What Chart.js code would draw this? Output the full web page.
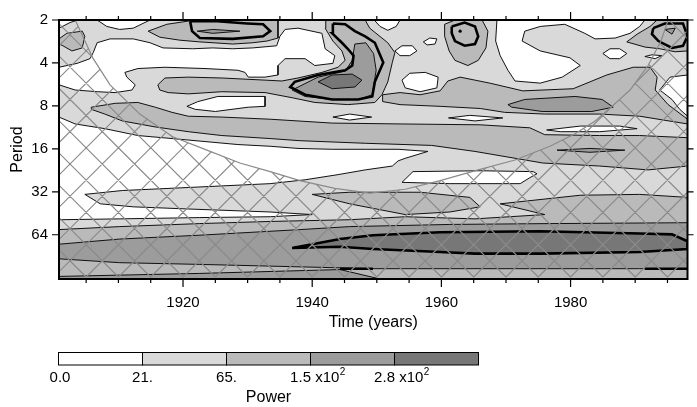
<!DOCTYPE html>
<html>
<head>
<meta charset="utf-8">
<script src="https://cdn.jsdelivr.net/npm/chart.js@4.4.0/dist/chart.umd.min.js"></script>
<style>
  html, body { margin: 0; padding: 0; background: #fff; }
</style>
</head>
<body>
<canvas id="myChart" width="697" height="407"></canvas>
<script>
// ejes: años y log2(periodo)
const yearTicks = [1920, 1940, 1960, 1980];
const log2PeriodTicks = [1, 2, 3, 4, 5, 6];
const yearRange = [1900.8, 1998.1];
const log2PeriodRange = [1, 7.03];

// niveles de potencia (barra de colores)
const powerLabels = ['0.0', '21.', '65.', '1.5 x10', '2.8 x10'];
const powerExponents = ['', '', '', '2', '2'];
const levelColors = ['#ffffff', '#d9d9d9', '#bababa', '#9c9c9c', '#777777'];

// cono de influencia [año, log2(periodo)]
const coiYear = [1903.3, 1906.1, 1908.7, 1913.3, 1918.4, 1923.7, 1928.8, 1933.5, 1938.1, 1943.5, 1948.9, 1954.4, 1959.8, 1965.7, 1971.4, 1976.8, 1980.7, 1983.8, 1986.7, 1989.2, 1992.0, 1994.0, 1995.1];
const coiLog2Period = [1.0, 1.90, 2.51, 3.19, 3.72, 4.03, 4.33, 4.53, 4.74, 4.92, 5.03, 4.94, 4.74, 4.49, 4.26, 3.94, 3.65, 3.35, 2.97, 2.63, 2.06, 1.49, 1.0];

// regiones de contorno [año, log2(periodo)]
const fullDomain = [[1900.8, 1], [1998.1, 1], [1998.1, 7.03], [1900.8, 7.03]];

const whiteCorner = [[1900.8, 1.0], [1903.7, 1.0], [1902.5, 1.06], [1900.8, 1.19]];
const whiteBay = [[1906.7, 1.0], [1908.2, 1.15], [1910.2, 1.22], [1912.3, 1.19], [1913.8, 1.08], [1914.9, 1.0]];
const whiteBay2 = [[1949.6, 1.0], [1950.5, 1.15], [1951.7, 1.24], [1953.0, 1.15], [1953.6, 1.0]];
const whiteUpper = [[1900.8, 2.10], [1903.6, 2.01], [1905.6, 1.90], [1906.1, 1.76], [1906.7, 1.53], [1908.7, 1.44], [1912.3, 1.44], [1914.9, 1.53], [1916.9, 1.65], [1921.5, 1.67], [1924.6, 1.65], [1927.7, 1.67], [1930.8, 1.65], [1934.5, 1.60], [1935.0, 1.38], [1935.8, 1.22], [1937.8, 1.19], [1941.5, 1.31], [1942.0, 1.67], [1943.5, 1.83], [1943.2, 2.01], [1940.4, 2.06], [1938.9, 1.90], [1935.8, 1.90], [1934.7, 2.06], [1934.7, 2.28], [1932.7, 2.33], [1930.1, 2.33], [1929.6, 2.22], [1928.5, 2.17], [1923.4, 2.13], [1917.2, 2.10], [1913.0, 2.13], [1911.0, 2.22], [1911.3, 2.33], [1912.6, 2.51], [1912.1, 2.63], [1909.5, 2.69], [1906.8, 2.67], [1903.3, 2.63], [1900.8, 2.51]];
const whiteLens = [[1920.6, 3.01], [1922.3, 2.90], [1925.4, 2.78], [1932.7, 2.78], [1932.7, 3.01], [1930.1, 3.03], [1925.0, 3.13], [1921.9, 3.08]];
const whiteMiddle = [[1900.8, 3.26], [1903.3, 3.42], [1907.9, 3.53], [1913.0, 3.69], [1918.3, 3.76], [1923.4, 3.83], [1928.5, 3.90], [1933.5, 3.94], [1937.8, 3.99], [1943.1, 4.01], [1948.2, 4.01], [1953.3, 4.01], [1957.9, 4.06], [1954.4, 4.22], [1953.3, 4.28], [1952.4, 4.40], [1948.2, 4.49], [1944.0, 4.60], [1938.9, 4.72], [1933.5, 4.81], [1920.8, 4.90], [1910.6, 4.97], [1904.8, 5.06], [1907.2, 5.28], [1912.3, 5.35], [1920.8, 5.40], [1933.5, 5.47], [1940.0, 5.53], [1933.5, 5.58], [1922.6, 5.60], [1910.2, 5.63], [1900.8, 5.65]];
const whiteLower = [[1953.9, 4.78], [1955.6, 4.53], [1966.0, 4.51], [1974.2, 4.53], [1974.8, 4.58], [1973.7, 4.67], [1972.2, 4.81], [1961.3, 4.81]];
const whiteSmall1 = [[1952.8, 1.72], [1953.9, 1.60], [1955.5, 1.60], [1956.2, 1.72], [1955.1, 1.83], [1953.6, 1.83]];
const whiteSmall2 = [[1957.2, 1.51], [1958.2, 1.42], [1959.3, 1.44], [1959.0, 1.56], [1957.8, 1.58]];
const whiteSmall3 = [[1953.9, 2.40], [1955.1, 2.24], [1957.5, 2.22], [1959.5, 2.33], [1959.3, 2.58], [1956.7, 2.67], [1954.4, 2.58]];
const whiteTopRight = [[1968.6, 1.0], [1991.5, 1.0], [1990.7, 1.15], [1989.2, 1.31], [1986.9, 1.42], [1983.8, 1.44], [1982.2, 1.31], [1979.1, 1.10], [1975.3, 1.15], [1972.9, 1.26], [1972.5, 1.49], [1975.3, 1.72], [1979.9, 1.88], [1981.5, 2.06], [1978.7, 2.33], [1975.3, 2.47], [1971.4, 2.42], [1970.3, 2.17], [1969.1, 1.83], [1968.4, 1.49]];
const whiteSmall4 = [[1985.0, 1.78], [1986.1, 1.67], [1987.6, 1.67], [1988.7, 1.78], [1987.6, 1.90], [1986.1, 1.90]];
const whiteSmall5 = [[1991.5, 1.85], [1992.6, 1.81], [1994.1, 1.83], [1993.1, 1.90]];
const whiteRightEdge = [[1993.8, 2.63], [1995.4, 2.33], [1998.1, 2.28], [1998.1, 3.24], [1996.9, 3.08], [1995.7, 2.85]];
const whiteSmall6 = [[1943.2, 3.26], [1945.8, 3.19], [1949.2, 3.26], [1945.8, 3.33]];
const whiteSmall7 = [[1961.1, 3.28], [1964.4, 3.22], [1969.5, 3.28], [1965.2, 3.35]];
const whiteSmall8 = [[1976.3, 3.56], [1981.5, 3.47], [1987.6, 3.47], [1990.3, 3.53], [1984.5, 3.60], [1978.4, 3.60]];

const midTopLeft = [[1900.8, 1.44], [1902.0, 1.31], [1904.4, 1.26], [1904.8, 1.38], [1904.4, 1.65], [1902.8, 1.72], [1901.4, 1.60], [1900.8, 1.56]];
const midTop1 = [[1914.6, 1.26], [1917.5, 1.10], [1920.6, 1.03], [1922.2, 1.0], [1934.7, 1.0], [1934.7, 1.42], [1933.0, 1.49], [1930.8, 1.53], [1927.7, 1.56], [1922.6, 1.51], [1919.5, 1.47], [1916.4, 1.40]];
const midBlob = [[1916.1, 2.51], [1917.2, 2.35], [1920.8, 2.33], [1926.0, 2.35], [1932.7, 2.40], [1935.3, 2.42], [1937.8, 2.35], [1941.5, 2.22], [1944.0, 2.10], [1945.1, 1.94], [1944.6, 1.72], [1943.2, 1.49], [1942.0, 1.19], [1942.1, 1.0], [1948.2, 1.0], [1948.9, 1.19], [1951.7, 1.53], [1952.8, 1.76], [1952.4, 1.99], [1951.7, 2.44], [1950.8, 2.74], [1949.7, 2.92], [1945.5, 2.97], [1940.4, 2.92], [1936.9, 2.81], [1932.7, 2.69], [1926.0, 2.67], [1920.8, 2.72], [1917.7, 2.69], [1916.4, 2.63]];
const midTop2 = [[1960.5, 1.10], [1962.1, 1.0], [1966.3, 1.0], [1967.2, 1.26], [1966.9, 1.65], [1965.7, 1.94], [1964.1, 2.06], [1962.1, 1.94], [1961.2, 1.72], [1960.5, 1.38]];
const midTopRight = [[1988.7, 1.51], [1990.3, 1.33], [1992.3, 1.15], [1993.4, 1.0], [1998.1, 1.0], [1998.1, 1.72], [1996.2, 1.74], [1993.8, 1.67], [1991.5, 1.63]];
const midRight = [[1950.9, 2.74], [1953.6, 2.69], [1956.7, 2.74], [1959.8, 2.65], [1961.0, 2.42], [1962.9, 2.33], [1967.5, 2.47], [1972.6, 2.65], [1980.4, 2.60], [1985.6, 2.28], [1989.7, 2.10], [1992.3, 2.10], [1993.4, 2.33], [1993.1, 2.63], [1995.1, 2.97], [1998.1, 3.31], [1998.1, 3.42], [1990.7, 3.24], [1984.5, 3.19], [1976.0, 3.19], [1969.8, 3.15], [1966.0, 3.06], [1959.8, 3.01], [1953.6, 2.97], [1950.9, 2.90]];
const midBand = [[1905.8, 3.03], [1909.5, 2.94], [1913.0, 2.92], [1915.7, 3.03], [1918.3, 3.15], [1920.8, 3.24], [1926.0, 3.26], [1933.5, 3.31], [1943.1, 3.40], [1953.6, 3.42], [1966.0, 3.44], [1973.7, 3.51], [1976.0, 3.67], [1984.5, 3.69], [1990.7, 3.69], [1998.1, 3.74], [1998.1, 4.40], [1992.0, 4.49], [1984.5, 4.40], [1975.7, 4.33], [1965.2, 4.06], [1958.5, 3.92], [1948.2, 3.87], [1938.1, 3.81], [1933.5, 3.76], [1926.0, 3.69], [1920.8, 3.60], [1915.7, 3.49], [1910.6, 3.35], [1907.9, 3.19], [1905.8, 3.08]];
const midWedge = [[1940.0, 5.06], [1945.8, 5.01], [1956.7, 5.01], [1964.4, 5.13], [1966.0, 5.35], [1961.3, 5.47], [1954.4, 5.53], [1945.8, 5.28]];
const midBottom = [[1900.8, 5.88], [1910.2, 5.81], [1922.6, 5.74], [1933.5, 5.69], [1945.8, 5.65], [1954.4, 5.58], [1965.2, 5.63], [1976.0, 5.53], [1969.1, 5.28], [1981.5, 5.08], [1990.7, 5.06], [1998.1, 5.13], [1998.1, 7.03], [1900.8, 7.03]];

const darkBlob = [[1936.9, 2.63], [1940.9, 2.33], [1945.1, 2.19], [1946.2, 1.94], [1946.6, 1.56], [1948.3, 1.53], [1949.5, 1.78], [1949.9, 2.17], [1949.3, 2.74], [1947.1, 2.85], [1943.1, 2.85], [1938.9, 2.78]];
const darkTop1 = [[1922.2, 1.26], [1924.6, 1.22], [1928.8, 1.26], [1924.6, 1.31]];
const darkRightLens = [[1970.3, 2.97], [1972.9, 2.85], [1980.7, 2.78], [1984.9, 2.85], [1986.6, 3.03], [1983.3, 3.13], [1975.6, 3.13], [1970.9, 3.03]];
const darkThinLens = [[1977.9, 4.03], [1983.0, 3.99], [1988.4, 4.03], [1983.0, 4.08]];
const darkTriangle = [[1994.6, 1.22], [1996.2, 1.19], [1995.7, 1.33]];
const darkBottomBand = [[1900.8, 6.22], [1910.2, 6.10], [1922.6, 6.01], [1938.1, 5.88], [1945.8, 5.81], [1961.3, 5.76], [1976.8, 5.74], [1998.1, 5.72], [1998.1, 6.79], [1990.7, 6.79], [1949.7, 6.79], [1922.6, 6.69], [1910.2, 6.65], [1900.8, 6.56]];
const darkBottomSliver = [[1900.8, 6.97], [1922.6, 6.90], [1944.3, 6.81], [1950.5, 7.03], [1900.8, 7.03]];
const darkestBlob = [[1940.9, 2.44], [1943.1, 2.28], [1946.2, 2.26], [1947.7, 2.40], [1946.6, 2.56], [1943.1, 2.60]];
const darkestEllipse = [[1936.9, 6.31], [1944.3, 6.10], [1949.4, 6.01], [1959.8, 5.94], [1975.3, 5.92], [1990.7, 5.97], [1995.7, 5.99], [1998.1, 6.15], [1998.1, 6.33], [1990.7, 6.40], [1975.3, 6.44], [1965.2, 6.44], [1959.8, 6.40], [1949.4, 6.33], [1944.3, 6.28]];

// contornos gruesos (significancia)
const sigBlob = [[1943.2, 1.08], [1945.1, 1.10], [1946.6, 1.26], [1948.2, 1.38], [1949.7, 1.53], [1951.0, 1.99], [1949.7, 2.44], [1949.3, 2.78], [1947.1, 2.85], [1943.1, 2.85], [1938.9, 2.74], [1936.6, 2.56], [1937.3, 2.44], [1940.9, 2.28], [1945.1, 2.17], [1946.2, 2.06], [1946.4, 1.83], [1945.5, 1.67], [1944.6, 1.53], [1943.1, 1.31]];
const sigTop1 = [[1921.1, 1.03], [1921.4, 1.26], [1922.6, 1.42], [1927.7, 1.44], [1932.4, 1.38], [1933.5, 1.26], [1932.4, 1.10], [1929.9, 1.08], [1925.3, 1.03]];
const sigTop2 = [[1961.6, 1.15], [1963.6, 1.06], [1965.2, 1.15], [1965.7, 1.38], [1965.2, 1.56], [1963.6, 1.60], [1962.1, 1.49], [1961.6, 1.31]];
const sigTopRight = [[1992.8, 1.19], [1994.6, 1.08], [1997.4, 1.08], [1998.1, 1.38], [1997.4, 1.60], [1995.7, 1.65], [1993.6, 1.49], [1992.6, 1.33]];
const sigEllipse = darkestEllipse;
const sigDot = [[1962.9, 1.26]];
const sigSeg1 = [[1944.3, 6.79], [1949.4, 6.79]];
const sigSeg2 = [[1991.5, 6.79], [1998.1, 6.79]];

// orden de pintado: [región, nivel]
const filledRegions = [
  [fullDomain, 1],
  [whiteCorner, 0], [whiteBay, 0], [whiteBay2, 0], [whiteUpper, 0], [whiteLens, 0], [whiteMiddle, 0],
  [whiteLower, 0], [whiteSmall1, 0], [whiteSmall2, 0], [whiteSmall3, 0], [whiteTopRight, 0],
  [whiteSmall4, 0], [whiteSmall5, 0], [whiteRightEdge, 0], [whiteSmall6, 0], [whiteSmall7, 0], [whiteSmall8, 0],
  [midTopLeft, 2], [midTop1, 2], [midBlob, 2], [midTop2, 2], [midTopRight, 2], [midRight, 2],
  [midBand, 2], [midWedge, 2], [midBottom, 2],
  [darkBlob, 3], [darkTop1, 3], [darkRightLens, 3], [darkThinLens, 3], [darkTriangle, 3],
  [darkBottomBand, 3], [darkBottomSliver, 3],
  [darkestBlob, 4], [darkestEllipse, 4]
];
const thickLines = [[sigBlob, true], [sigTop1, true], [sigTop2, true], [sigTopRight, true], [sigEllipse, true], [sigSeg1, false], [sigSeg2, false]];

const toXY = (pts, closed) => (closed ? pts.concat([pts[0]]) : pts).map(([x, y]) => ({ x: x, y: y }));

const datasets = [];
filledRegions.forEach(([pts, lvl], i) => {
  datasets.push({
    data: toXY(pts, true),
    areaColor: levelColors[lvl],
    borderColor: '#111',
    borderWidth: i === 0 ? 0 : 1,
    showLine: true, pointRadius: 0, fill: false
  });
});
thickLines.forEach(([pts, closed]) => {
  datasets.push({ data: toXY(pts, closed), borderColor: '#000', borderWidth: 2.6, showLine: true, pointRadius: 0, fill: false });
});
datasets.push({ data: toXY(sigDot, false), pointRadius: 1.6, pointBackgroundColor: '#000', pointBorderWidth: 0, showLine: false });
datasets.push({
  data: coiYear.map((yr, i) => ({ x: yr, y: coiLog2Period[i] })),
  borderColor: '#8a8a8a', borderWidth: 1.2, showLine: true, pointRadius: 0, fill: false
});
datasets.forEach((d, i) => { d.order = -i; });

// relleno de cada contorno antes de su línea
const rellenoContornos = {
  id: 'rellenoContornos',
  beforeDatasetDraw(chart, args) {
    const ds = chart.data.datasets[args.index];
    if (!ds.areaColor) return;
    const { ctx, chartArea: a } = chart;
    ctx.save();
    ctx.beginPath();
    ctx.rect(a.left, a.top, a.width, a.height);
    ctx.clip();
    ctx.beginPath();
    args.meta.data.forEach((p, i) => (i ? ctx.lineTo(p.x, p.y) : ctx.moveTo(p.x, p.y)));
    ctx.closePath();
    ctx.fillStyle = ds.areaColor;
    ctx.fill();
    ctx.restore();
  }
};

// rayado fuera del cono de influencia
const rayadoCOI = {
  id: 'rayadoCOI',
  afterDatasetsDraw(chart) {
    const { ctx, chartArea: a, scales: { x, y } } = chart;
    ctx.save();
    ctx.beginPath();
    ctx.moveTo(a.left, a.top);
    coiYear.forEach((yr, i) => ctx.lineTo(x.getPixelForValue(yr), y.getPixelForValue(coiLog2Period[i])));
    ctx.lineTo(a.right, a.top);
    ctx.lineTo(a.right, a.bottom);
    ctx.lineTo(a.left, a.bottom);
    ctx.closePath();
    ctx.clip();
    const step = x.getPixelForValue(1910) - x.getPixelForValue(1905);
    const x0 = x.getPixelForValue(1905);
    const yb = a.bottom - 2;
    const h = a.height + 10;
    ctx.beginPath();
    for (let k = -25; k < 45; k++) {
      const bx = x0 + k * step;
      ctx.moveTo(bx, yb); ctx.lineTo(bx + h, yb - h);
      ctx.moveTo(bx, yb); ctx.lineTo(bx - h, yb - h);
    }
    ctx.strokeStyle = '#8a8a8a';
    ctx.lineWidth = 1.1;
    ctx.stroke();
    ctx.restore();
  }
};

// marco, marcas de ejes y barra de colores
const marcoYBarra = {
  id: 'marcoYBarra',
  afterDraw(chart) {
    const { ctx, chartArea: a, scales: { x, y } } = chart;
    ctx.save();
    ctx.strokeStyle = '#000';
    ctx.lineWidth = 2;
    ctx.strokeRect(a.left, a.top, a.width, a.height);
    ctx.lineWidth = 1.2;
    ctx.beginPath();
    for (let yr = 1905; yr <= 1995; yr += 5) {
      const px = x.getPixelForValue(yr);
      const len = yr % 20 === 0 ? 8 : 4;
      ctx.moveTo(px, a.bottom); ctx.lineTo(px, a.bottom + len);
      ctx.moveTo(px, a.top); ctx.lineTo(px, a.top - len);
    }
    log2PeriodTicks.forEach(v => {
      const py = y.getPixelForValue(v);
      ctx.moveTo(a.left, py); ctx.lineTo(a.left - 7, py);
      ctx.moveTo(a.right, py); ctx.lineTo(a.right + 6, py);
    });
    ctx.stroke();

    // barra de colores
    const bl = 58.5, br = 478.5, bt = 352.5, bb = 365;
    const w = (br - bl) / levelColors.length;
    levelColors.forEach((c, i) => {
      ctx.fillStyle = c;
      ctx.fillRect(bl + i * w, bt, w, bb - bt);
    });
    ctx.lineWidth = 1;
    levelColors.forEach((c, i) => ctx.strokeRect(bl + i * w, bt, w, bb - bt));
    ctx.fillStyle = '#000';
    ctx.textBaseline = 'middle';
    powerLabels.forEach((t, i) => {
      const sup = powerExponents[i];
      ctx.font = '15px "Liberation Sans", Arial, sans-serif';
      const w1 = ctx.measureText(t).width;
      ctx.font = '10px "Liberation Sans", Arial, sans-serif';
      const w2 = sup ? ctx.measureText(sup).width : 0;
      const cx = bl + i * w + (sup ? 7 : (i === 0 ? 1.5 : 0));
      const sx = cx - (w1 + w2) / 2;
      ctx.font = '15px "Liberation Sans", Arial, sans-serif';
      ctx.textAlign = 'left';
      ctx.fillText(t, sx, 378);
      if (sup) {
        ctx.font = '10px "Liberation Sans", Arial, sans-serif';
        ctx.fillText(sup, sx + w1 + 0.5, 372);
      }
    });
    ctx.font = '16px "Liberation Sans", Arial, sans-serif';
    ctx.textAlign = 'center';
    ctx.fillText('Power', (bl + br) / 2, 398);
    ctx.restore();
  }
};

Chart.defaults.font.family = '"Liberation Sans", Arial, sans-serif';
Chart.defaults.color = '#000';

new Chart(document.getElementById('myChart'), {
  type: 'scatter',
  data: { datasets: datasets },
  options: {
    responsive: false,
    animation: false,
    events: [],
    layout: { padding: { top: 13.5, right: 9.5, left: 0, bottom: 0 } },
    plugins: { legend: { display: false }, tooltip: { enabled: false } },
    scales: {
      x: {
        type: 'linear', position: 'bottom',
        min: yearRange[0], max: yearRange[1],
        afterBuildTicks: s => { s.ticks = yearTicks.map(v => ({ value: v })); },
        afterFit: s => { s.height = 128; },
        ticks: { callback: v => String(v), font: { size: 15 }, padding: 15, maxRotation: 0 },
        grid: { display: false, drawTicks: false },
        border: { display: false },
        title: { display: true, text: 'Time (years)', font: { size: 16 }, padding: { top: 0, bottom: 75 } }
      },
      y: {
        type: 'linear', position: 'left', reverse: true,
        min: log2PeriodRange[0], max: log2PeriodRange[1],
        afterBuildTicks: s => { s.ticks = log2PeriodTicks.map(v => ({ value: v })); },
        afterFit: s => { s.width = 59; },
        ticks: { callback: v => String(2 ** v), font: { size: 15 }, padding: 11 },
        grid: { display: false, drawTicks: false },
        border: { display: false },
        title: { display: true, text: 'Period', font: { size: 16 }, padding: { top: 8, bottom: 0 } }
      }
    }
  },
  plugins: [rellenoContornos, rayadoCOI, marcoYBarra]
});
</script>
</body>
</html>
